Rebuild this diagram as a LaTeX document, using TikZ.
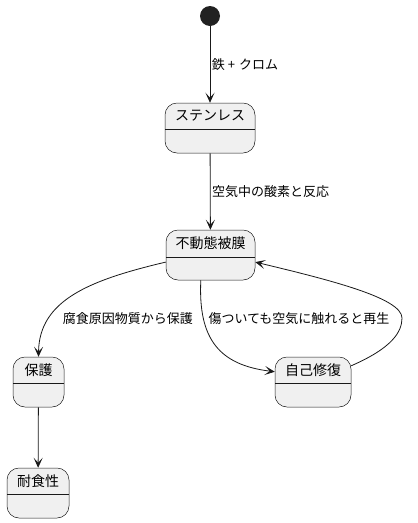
\documentclass[tikz,border=0pt]{standalone}
\usepackage{fontspec}
\setmainfont{Noto Sans CJK JP}
\usetikzlibrary{positioning,arrows.meta}

\begin{document}
\begin{tikzpicture}[x=1pt, y=-1pt,
  state/.style={draw=black!90, line width=0.5pt, fill=black!6, rounded corners=12pt, minimum height=50pt, inner sep=0pt},
  title/.style={font=\fontsize{14pt}{16pt}\selectfont, inner sep=0pt},
  lbl/.style={font=\fontsize{13pt}{15pt}\selectfont, inner sep=1.5pt},
  sep/.style={draw=black!90, line width=0.5pt},
  arr/.style={->, >={Stealth[length=10pt,width=9pt,inset=5pt]}, line width=0.8pt, draw=black!90}]
\useasboundingbox (0,0) rectangle (418,523);
% states
\node[circle, fill=black!87, minimum size=20pt, inner sep=0pt] (st) at (210,16) {};
\node[state, minimum width=90pt] (sus) at (210,128) {};
\node[title] at (210,116) {ステンレス};
\draw[sep] (165,129) -- (255,129);
\node[state, minimum width=89pt] (film) at (210.5,255) {};
\node[title] at (210.5,243) {不動態被膜};
\draw[sep] (166,257) -- (255,257);
\node[state, minimum width=51pt] (prot) at (38.5,382) {};
\node[title] at (38.5,370) {保護};
\draw[sep] (13,383) -- (64,383);
\node[state, minimum width=76pt] (heal) at (313,382) {};
\node[title] at (313,370) {自己修復};
\draw[sep] (275,383) -- (351,383);
\node[state, minimum width=62pt] (res) at (38,493) {};
\node[title] at (38,481) {耐食性};
\draw[sep] (7,494) -- (69,494);
% transitions
\draw[arr] (st) -- (sus) node[lbl, midway, right] {鉄\hspace{3pt}+\hspace{4pt}クロム};
\draw[arr] (sus) -- (film) node[lbl, midway, right] {空気中の酸素と反応};
\draw[arr] (film.189) .. controls (90,280) and (39,300) .. (prot.north);
\node[lbl] (l1) at (128,319) {腐食原因物質から保護};
\draw[arr] (film.249) .. controls (198,340) and (220,365) .. (heal.165);
\node[lbl] (l2) at (299,319) {傷ついても空気に触れると再生};
\draw[arr] (heal.23) .. controls (392,348) and (402,332) .. (402,318)
  .. controls (402,298) and (330,280) .. (film.351);
\draw[arr] (prot) -- (res);
\end{tikzpicture}
\end{document}
